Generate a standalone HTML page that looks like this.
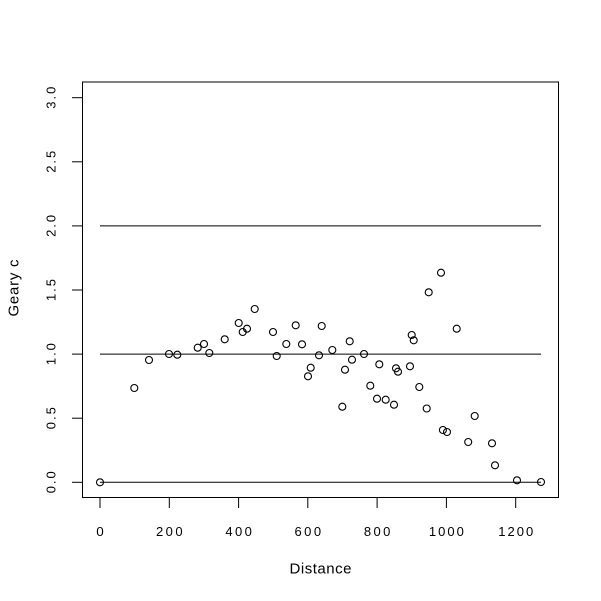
<!DOCTYPE html>
<html>
<head>
<meta charset="utf-8">
<style>
html,body{margin:0;padding:0;background:#fff;}
svg{display:block;}
text{font-family:"Liberation Sans","DejaVu Sans",sans-serif;fill:#000;}
</style>
</head>
<body>
<svg width="601" height="601" viewBox="0 0 601 601" xmlns="http://www.w3.org/2000/svg">
<rect x="0" y="0" width="601" height="601" fill="#fff"/>
<rect x="82.5" y="82" width="476" height="415.5" fill="none" stroke="#000" stroke-width="1"/>
<g stroke="#000" stroke-width="1" fill="none">
<line x1="100" y1="482.3" x2="541" y2="482.3"/>
<line x1="100" y1="354.1" x2="541" y2="354.1"/>
<line x1="100" y1="225.9" x2="541" y2="225.9"/>
</g>
<g stroke="#000" stroke-width="1">
<line x1="72" y1="482.3" x2="82.5" y2="482.3"/>
<line x1="72" y1="418.2" x2="82.5" y2="418.2"/>
<line x1="72" y1="354.1" x2="82.5" y2="354.1"/>
<line x1="72" y1="290" x2="82.5" y2="290"/>
<line x1="72" y1="225.9" x2="82.5" y2="225.9"/>
<line x1="72" y1="161.8" x2="82.5" y2="161.8"/>
<line x1="72" y1="97.7" x2="82.5" y2="97.7"/>
</g>
<g stroke="#000" stroke-width="1">
<line x1="100" y1="497.5" x2="100" y2="508"/>
<line x1="169.3" y1="497.5" x2="169.3" y2="508"/>
<line x1="238.6" y1="497.5" x2="238.6" y2="508"/>
<line x1="307.8" y1="497.5" x2="307.8" y2="508"/>
<line x1="377.1" y1="497.5" x2="377.1" y2="508"/>
<line x1="446.4" y1="497.5" x2="446.4" y2="508"/>
<line x1="515.7" y1="497.5" x2="515.7" y2="508"/>
</g>
<g font-size="13" text-anchor="middle">
<text x="100" y="536" textLength="7.5" lengthAdjust="spacingAndGlyphs">0</text>
<text x="169.3" y="536" textLength="26.5" lengthAdjust="spacing">200</text>
<text x="238.6" y="536" textLength="26.5" lengthAdjust="spacing">400</text>
<text x="307.8" y="536" textLength="26.5" lengthAdjust="spacing">600</text>
<text x="377.1" y="536" textLength="26.5" lengthAdjust="spacing">800</text>
<text x="446.4" y="536" textLength="35" lengthAdjust="spacing">1000</text>
<text x="515.7" y="536" textLength="35" lengthAdjust="spacing">1200</text>
</g>
<g font-size="13" text-anchor="middle">
<text transform="translate(55.5,482.3) rotate(-90)" textLength="22" lengthAdjust="spacing">0.0</text>
<text transform="translate(55.5,418.2) rotate(-90)" textLength="22" lengthAdjust="spacing">0.5</text>
<text transform="translate(55.5,354.1) rotate(-90)" textLength="22" lengthAdjust="spacing">1.0</text>
<text transform="translate(55.5,290) rotate(-90)" textLength="22" lengthAdjust="spacing">1.5</text>
<text transform="translate(55.5,225.9) rotate(-90)" textLength="22" lengthAdjust="spacing">2.0</text>
<text transform="translate(55.5,161.8) rotate(-90)" textLength="22" lengthAdjust="spacing">2.5</text>
<text transform="translate(55.5,97.7) rotate(-90)" textLength="22" lengthAdjust="spacing">3.0</text>
</g>
<text x="320.5" y="573.5" font-size="15" text-anchor="middle" textLength="62" lengthAdjust="spacing">Distance</text>
<text transform="translate(18.5,288) rotate(-90)" font-size="15" text-anchor="middle" textLength="57" lengthAdjust="spacing">Geary c</text>
<g fill="none" stroke="#000" stroke-width="1.1">
<circle cx="100" cy="482.3" r="3.5"/>
<circle cx="134.3" cy="388" r="3.5"/>
<circle cx="149" cy="360" r="3.5"/>
<circle cx="169" cy="354" r="3.5"/>
<circle cx="177.3" cy="354.7" r="3.5"/>
<circle cx="197.7" cy="347.7" r="3.5"/>
<circle cx="204" cy="344" r="3.5"/>
<circle cx="209.3" cy="353" r="3.5"/>
<circle cx="224.7" cy="339.3" r="3.5"/>
<circle cx="238.7" cy="323" r="3.5"/>
<circle cx="242.7" cy="332" r="3.5"/>
<circle cx="247" cy="328.7" r="3.5"/>
<circle cx="254.7" cy="309" r="3.5"/>
<circle cx="273" cy="332" r="3.5"/>
<circle cx="276.7" cy="356" r="3.5"/>
<circle cx="286.3" cy="344" r="3.5"/>
<circle cx="295.7" cy="325.3" r="3.5"/>
<circle cx="302" cy="344.3" r="3.5"/>
<circle cx="321.7" cy="326" r="3.5"/>
<circle cx="319" cy="355.3" r="3.5"/>
<circle cx="310.7" cy="367.7" r="3.5"/>
<circle cx="308" cy="376.3" r="3.5"/>
<circle cx="332.3" cy="350" r="3.5"/>
<circle cx="349.7" cy="341.3" r="3.5"/>
<circle cx="352" cy="359.7" r="3.5"/>
<circle cx="345" cy="369.7" r="3.5"/>
<circle cx="364" cy="354" r="3.5"/>
<circle cx="379.3" cy="364.3" r="3.5"/>
<circle cx="370.3" cy="385.7" r="3.5"/>
<circle cx="342.3" cy="406.7" r="3.5"/>
<circle cx="377" cy="398.7" r="3.5"/>
<circle cx="385.7" cy="399.7" r="3.5"/>
<circle cx="394" cy="404.7" r="3.5"/>
<circle cx="396" cy="368.3" r="3.5"/>
<circle cx="398" cy="371.7" r="3.5"/>
<circle cx="410" cy="366.3" r="3.5"/>
<circle cx="411.7" cy="335" r="3.5"/>
<circle cx="413.7" cy="340.3" r="3.5"/>
<circle cx="419.3" cy="387" r="3.5"/>
<circle cx="426.7" cy="408.5" r="3.5"/>
<circle cx="441" cy="272.7" r="3.5"/>
<circle cx="428.7" cy="292.3" r="3.5"/>
<circle cx="456.7" cy="328.7" r="3.5"/>
<circle cx="474.7" cy="416" r="3.5"/>
<circle cx="442.9" cy="430" r="3.5"/>
<circle cx="447" cy="432" r="3.5"/>
<circle cx="468.2" cy="442" r="3.5"/>
<circle cx="492" cy="443.3" r="3.5"/>
<circle cx="495" cy="465.3" r="3.5"/>
<circle cx="517" cy="480.3" r="3.5"/>
<circle cx="541" cy="482" r="3.5"/>
</g>
</svg>
</body>
</html>
